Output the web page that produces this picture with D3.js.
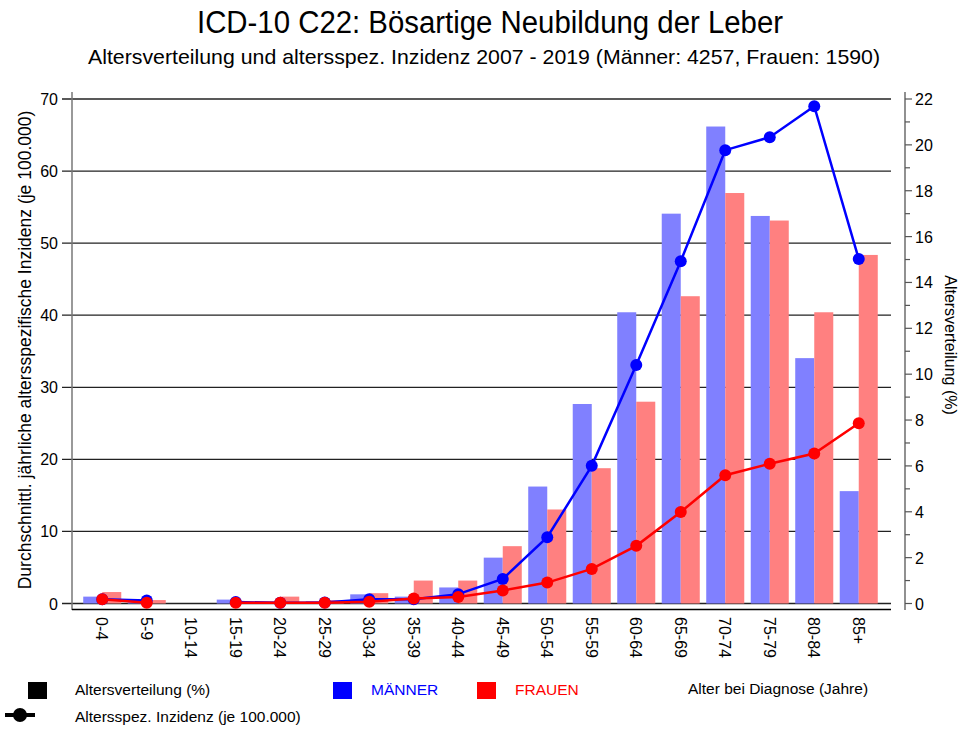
<!DOCTYPE html>
<meta charset="utf-8">
<script src="https://d3js.org/d3.v7.min.js"></script>
<style>
  body { margin: 0; background: #fff; }
  text { font-family: "Liberation Sans", Arial, sans-serif; }
</style>
<div id="my_dataviz"></div>
<script>

// age groups
var ageGroups = ["0-4","5-9","10-14","15-19","20-24","25-29","30-34","35-39","40-44",
                 "45-49","50-54","55-59","60-64","65-69","70-74","75-79","80-84","85+"];

// Altersverteilung (%) - bars, right axis
var verteilungMaenner = [0.3, 0.15, null, 0.17, 0.05, 0.1, 0.4, 0.3, 0.7, 2.0, 5.1, 8.7, 12.7, 17.0, 20.8, 16.9, 10.7, 4.9];
var verteilungFrauen  = [0.5, 0.15, null, 0.05, 0.3, 0.15, 0.45, 1.0, 1.0, 2.5, 4.1, 5.9, 8.8, 13.4, 17.9, 16.7, 12.7, 15.2];

// altersspez. Inzidenz je 100.000 - lines, left axis
var inzidenzMaenner = [0.6, 0.4, null, 0.2, 0.1, 0.15, 0.6, 0.6, 1.3, 3.4, 9.2, 19.1, 33.1, 47.5, 62.9, 64.7, 69.0, 47.8];
var inzidenzFrauen  = [0.6, 0.1, null, 0.1, 0.1, 0.1, 0.25, 0.7, 0.9, 1.8, 2.9, 4.8, 8.0, 12.7, 17.8, 19.4, 20.8, 25.0];

var leftTicks = [0, 10, 20, 30, 40, 50, 60, 70];
var rightTicks = [0, 2, 4, 6, 8, 10, 12, 14, 16, 18, 20, 22];

var W = 960, H = 731;
var svg = d3.select("#my_dataviz").append("svg")
    .attr("width", W).attr("height", H);

var x = d3.scaleBand().domain(ageGroups).range([80, 881]);
var xs = d3.scaleBand().domain(["m", "f"]).range([0, x.bandwidth()]).paddingOuter(0.17);
var yL = d3.scaleLinear().domain([0, 70]).range([603.5, 99]);
var yR = d3.scaleLinear().domain([0, 22]).range([603.5, 99]);

// title
svg.append("text").attr("x", 490).attr("y", 33).attr("text-anchor", "middle")
    .attr("textLength", 586).attr("lengthAdjust", "spacingAndGlyphs")
    .style("font-size", "31px").text("ICD-10 C22: Bösartige Neubildung der Leber");
svg.append("text").attr("x", 484).attr("y", 64).attr("text-anchor", "middle")
    .attr("textLength", 792).attr("lengthAdjust", "spacingAndGlyphs")
    .style("font-size", "21px")
    .text("Altersverteilung und altersspez. Inzidenz 2007 - 2019 (Männer: 4257, Frauen: 1590)");

// gridlines + left labels
svg.append("g").selectAll("line").data(leftTicks).enter().append("line")
    .attr("x1", 62).attr("x2", 891)
    .attr("y1", function(d) { return yL(d); }).attr("y2", function(d) { return yL(d); })
    .attr("stroke", "#222").attr("stroke-width", 1.3);
svg.append("g").selectAll("text").data(leftTicks).enter().append("text")
    .attr("x", 58).attr("y", function(d) { return yL(d) + 6; })
    .attr("text-anchor", "end").style("font-size", "16px")
    .text(function(d) { return d; });

// bars
var bars = svg.append("g");
ageGroups.forEach(function(g, i) {
  if (verteilungMaenner[i] != null)
    bars.append("rect").attr("x", x(g) + xs("m")).attr("width", xs.bandwidth())
      .attr("y", yR(verteilungMaenner[i])).attr("height", yR(0) - yR(verteilungMaenner[i]))
      .attr("fill", "#8080ff");
  if (verteilungFrauen[i] != null)
    bars.append("rect").attr("x", x(g) + xs("f")).attr("width", xs.bandwidth())
      .attr("y", yR(verteilungFrauen[i])).attr("height", yR(0) - yR(verteilungFrauen[i]))
      .attr("fill", "#ff8080");
});

// axis frame
svg.append("line").attr("x1", 72).attr("x2", 72).attr("y1", 92).attr("y2", 610)
    .attr("stroke", "#777").attr("stroke-width", 1.5);
svg.append("line").attr("x1", 72).attr("x2", 891).attr("y1", 609.5).attr("y2", 609.5)
    .attr("stroke", "#000").attr("stroke-width", 1.3);

// right axis
var rAxis = svg.append("g").attr("transform", "translate(905,0)");
rAxis.append("line").attr("y1", 92).attr("y2", 610).attr("stroke", "#555").attr("stroke-width", 1.3);
rAxis.selectAll(".mt").data(d3.range(1, 22, 2)).enter().append("line")
    .attr("x1", 0).attr("x2", 5)
    .attr("y1", function(d) { return yR(d); }).attr("y2", function(d) { return yR(d); })
    .attr("stroke", "#555").attr("stroke-width", 1.2);
rAxis.selectAll(".tk").data(rightTicks).enter().append("line")
    .attr("x1", 0).attr("x2", 7)
    .attr("y1", function(d) { return yR(d); }).attr("y2", function(d) { return yR(d); })
    .attr("stroke", "#555").attr("stroke-width", 1.2);
rAxis.selectAll("text").data(rightTicks).enter().append("text")
    .attr("x", 10).attr("y", function(d) { return yR(d) + 6; })
    .style("font-size", "16px").text(function(d) { return d; });

// axis titles
svg.append("text").attr("transform", "translate(31,350)rotate(-90)")
    .attr("text-anchor", "middle").style("font-size", "17.5px")
    .text("Durchschnittl. jährliche altersspezifische Inzidenz (je 100.000)");
svg.append("text").attr("transform", "translate(945,345)rotate(90)")
    .attr("text-anchor", "middle").style("font-size", "16px")
    .text("Altersverteilung (%)");

// x labels
svg.append("g").selectAll("text").data(ageGroups).enter().append("text")
    .attr("transform", function(d) { return "translate(" + (x(d) + x.bandwidth() / 2 - 6) + ",617)rotate(90)"; })
    .style("font-size", "16px").text(function(d) { return d; });

// lines
function drawLine(vals, col) {
  var line = d3.line()
      .defined(function(d) { return d != null; })
      .x(function(d, i) { return x(ageGroups[i]) + x.bandwidth() / 2; })
      .y(function(d) { return yL(d); });
  svg.append("path").datum(vals).attr("d", line)
      .attr("fill", "none").attr("stroke", col).attr("stroke-width", 2.5);
  var g = svg.append("g");
  vals.forEach(function(d, i) {
    if (d != null) g.append("circle").attr("cx", x(ageGroups[i]) + x.bandwidth() / 2)
      .attr("cy", yL(d)).attr("r", 6).attr("fill", col);
  });
}
drawLine(inzidenzMaenner, "#0000ff");
drawLine(inzidenzFrauen, "#ff0000");

// legend
var lg = svg.append("g").style("font-size", "15.5px");
lg.append("rect").attr("x", 28).attr("y", 682).attr("width", 19).attr("height", 17).attr("fill", "#000");
lg.append("text").attr("x", 75).attr("y", 695).text("Altersverteilung (%)");
lg.append("rect").attr("x", 333).attr("y", 682).attr("width", 19).attr("height", 17).attr("fill", "#0000ff");
lg.append("text").attr("x", 371).attr("y", 695).attr("fill", "#0000ff").text("MÄNNER");
lg.append("rect").attr("x", 477).attr("y", 682).attr("width", 19).attr("height", 17).attr("fill", "#ff0000");
lg.append("text").attr("x", 515).attr("y", 695).attr("fill", "#ff0000").text("FRAUEN");
lg.append("text").attr("x", 688).attr("y", 694).text("Alter bei Diagnose (Jahre)");
lg.append("line").attr("x1", 5).attr("x2", 35).attr("y1", 715).attr("y2", 715)
    .attr("stroke", "#000").attr("stroke-width", 4);
lg.append("circle").attr("cx", 20).attr("cy", 715).attr("r", 7).attr("fill", "#000");
lg.append("text").attr("x", 75).attr("y", 722).text("Altersspez. Inzidenz (je 100.000)");

</script>
